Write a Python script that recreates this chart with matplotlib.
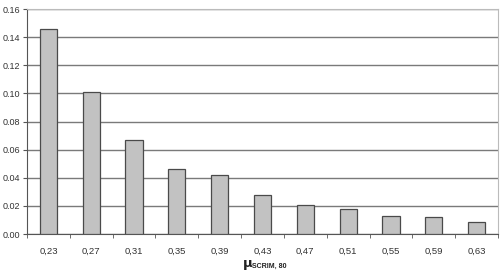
import matplotlib
matplotlib.use("Agg")
from matplotlib import pyplot as plt
import numpy as np

plt.rcParams['font.family'] = ['Liberation Sans', 'DejaVu Sans']

# friction classes on x axis and the bar heights
mu_labels = ["0,23", "0,27", "0,31", "0,35", "0,39", "0,43",
             "0,47", "0,51", "0,55", "0,59", "0,63"]
values = [0.146, 0.101, 0.067, 0.046, 0.042, 0.028,
          0.021, 0.0175, 0.013, 0.012, 0.0083]
y_ticks = [0.00, 0.02, 0.04, 0.06, 0.08, 0.10, 0.12, 0.14, 0.16]

fig = plt.figure(figsize=(5, 2.75), dpi=100)
ax = fig.add_axes([0.054, 0.149, 0.942, 0.818])

x = np.arange(len(values))
ax.bar(x, values, width=0.4, color="#c2c2c2", edgecolor="#4a4a4a",
       linewidth=0.9, zorder=3)

ax.set_xlim(-0.5, len(values) - 0.5)
ax.set_ylim(0, 0.16)
ax.set_yticks(y_ticks)
ax.set_yticklabels(["%.2f" % v for v in y_ticks], fontsize=6.5, color="#333333")
ax.yaxis.grid(True, color="#7a7a7a", linewidth=1.0, zorder=0)

# labels centred under bars, tick marks at the class boundaries
ax.set_xticks(x)
ax.set_xticklabels(mu_labels, fontsize=6.8, color="#333333")
ax.tick_params(axis="x", length=0, pad=9)
ax.set_xticks(np.arange(len(values) + 1) - 0.5, minor=True)
ax.tick_params(axis="x", which="minor", length=3, color="#555555", direction="out")
ax.tick_params(axis="y", length=3, color="#555555", width=0.8, pad=2)

for side in ["top", "right"]:
    ax.spines[side].set_color("#bbbbbb")
ax.spines["left"].set_color("#555555")
ax.spines["bottom"].set_color("#555555")

fig.text(0.484, 0.03, r"$\mathbf{\mu}$", fontsize=9.5, color="#222222")
fig.text(0.504, 0.027, "SCRIM, 80", fontsize=5, fontweight="bold", color="#222222")

fig.savefig("out.png", dpi=100)
